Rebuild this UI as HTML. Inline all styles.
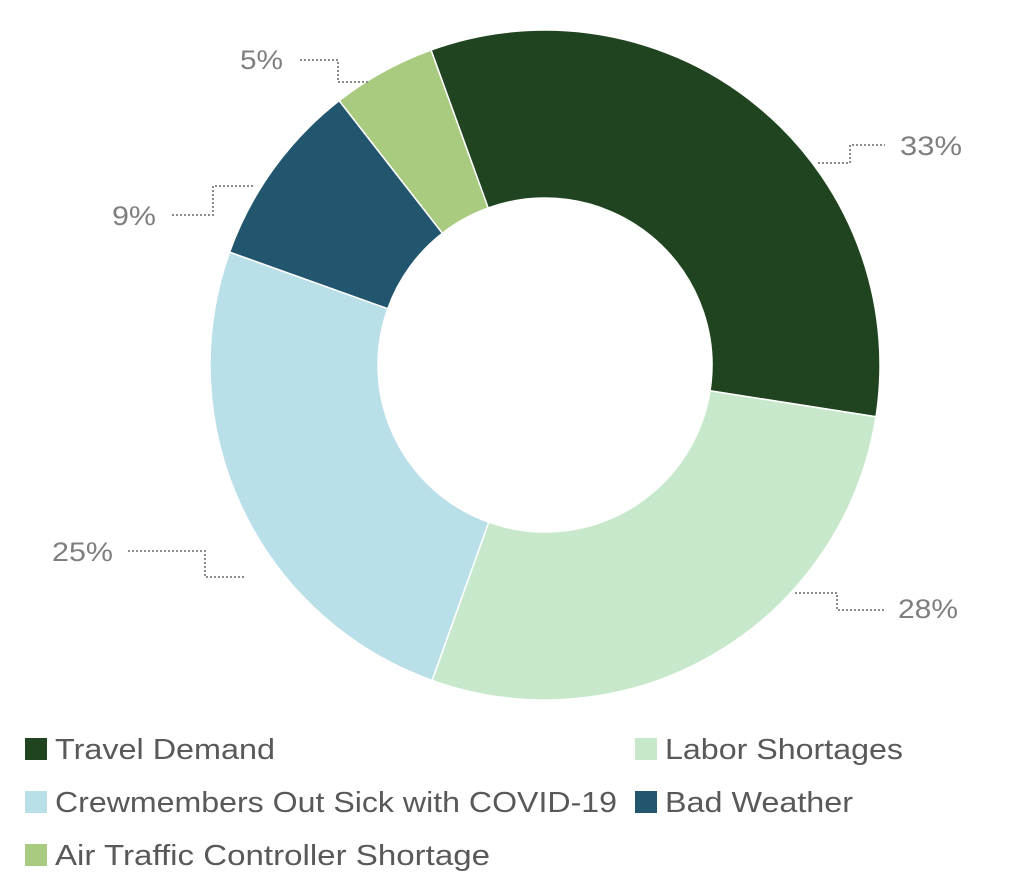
<!DOCTYPE html>
<html><head><meta charset="utf-8"><style>
html,body{margin:0;padding:0;background:#fff;}
svg{display:block;}
text{font-family:"Liberation Sans",sans-serif;}
</style></head><body>
<svg width="1024" height="890" viewBox="0 0 1024 890" xmlns="http://www.w3.org/2000/svg">
<g stroke="#fff" stroke-width="1.5">
<path d="M431.0,50.0 A335,335 0 0 1 876.0,416.8 L710.0,390.8 A167,167 0 0 0 488.2,208.0 Z" fill="#20441f"/>
<path d="M876.0,416.8 A335,335 0 0 1 432.1,680.4 L488.7,522.2 A167,167 0 0 0 710.0,390.8 Z" fill="#c8e8cc"/>
<path d="M432.1,680.4 A335,335 0 0 1 229.6,252.1 L387.8,308.7 A167,167 0 0 0 488.7,522.2 Z" fill="#b9dfe9"/>
<path d="M229.6,252.1 A335,335 0 0 1 339.2,100.7 L442.4,233.2 A167,167 0 0 0 387.8,308.7 Z" fill="#22566e"/>
<path d="M339.2,100.7 A335,335 0 0 1 431.0,50.0 L488.2,208.0 A167,167 0 0 0 442.4,233.2 Z" fill="#a9cb80"/>
</g>
<g fill="none" stroke="#8c8c8c" stroke-width="2" stroke-dasharray="2,2">
<polyline points="818,163 850,163 850,145 885,145"/>
<polyline points="795,593 837,593 837,610 885,610"/>
<polyline points="128,551 205,551 205,577 245,577"/>
<polyline points="172,215 213,215 213,186 255,186"/>
<polyline points="300,60 338,60 338,82 370,82"/>
</g>
<g fill="#7f7f7f" font-size="27" lengthAdjust="spacingAndGlyphs">
<text x="900" y="155" textLength="62" lengthAdjust="spacingAndGlyphs">33%</text>
<text x="898" y="618" textLength="60" lengthAdjust="spacingAndGlyphs">28%</text>
<text x="52" y="561" textLength="61" lengthAdjust="spacingAndGlyphs">25%</text>
<text x="112" y="225" textLength="44" lengthAdjust="spacingAndGlyphs">9%</text>
<text x="240" y="69" textLength="43" lengthAdjust="spacingAndGlyphs">5%</text>
</g>
<rect x="25" y="738" width="22" height="22" fill="#20441f"/>
<rect x="635" y="738" width="22" height="22" fill="#c8e8cc"/>
<rect x="25" y="791" width="22" height="22" fill="#b9dfe9"/>
<rect x="635" y="791" width="22" height="22" fill="#22566e"/>
<rect x="25" y="844" width="22" height="22" fill="#a9cb80"/>
<g fill="#595959" font-size="29">
<text x="55" y="759" textLength="220" lengthAdjust="spacingAndGlyphs">Travel Demand</text>
<text x="665" y="759" textLength="238" lengthAdjust="spacingAndGlyphs">Labor Shortages</text>
<text x="55" y="812" textLength="562" lengthAdjust="spacingAndGlyphs">Crewmembers Out Sick with COVID-19</text>
<text x="665" y="812" textLength="188" lengthAdjust="spacingAndGlyphs">Bad Weather</text>
<text x="55" y="865" textLength="435" lengthAdjust="spacingAndGlyphs">Air Traffic Controller Shortage</text>
</g>
</svg>
</body></html>
